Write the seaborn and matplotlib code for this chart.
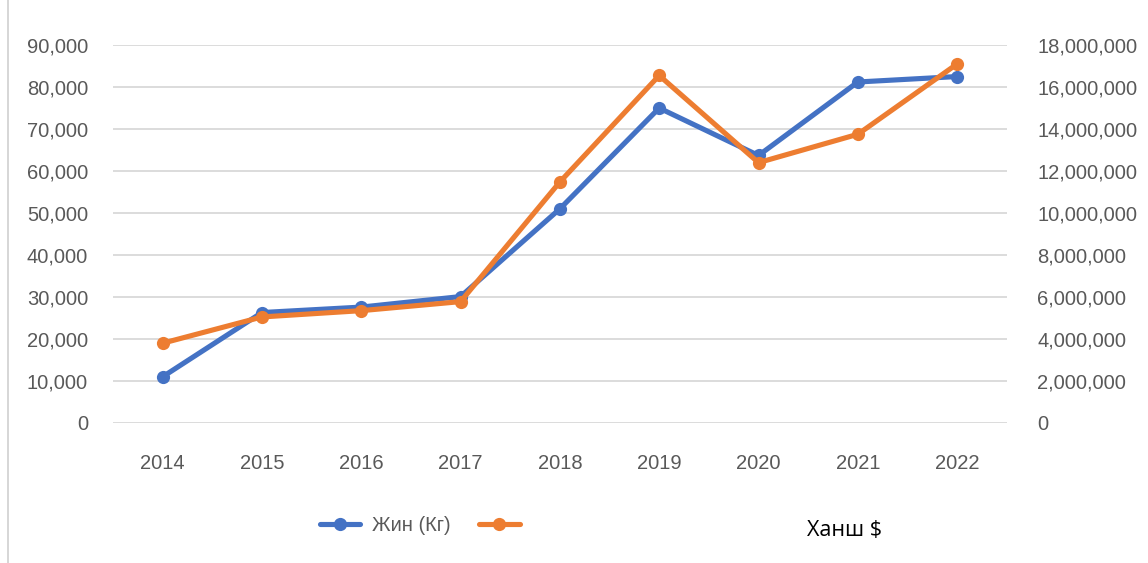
import matplotlib
matplotlib.use("Agg")
import matplotlib.pyplot as plt
import seaborn as sns
import pandas as pd
from matplotlib.lines import Line2D
from matplotlib.ticker import FuncFormatter, MultipleLocator

years = [2014, 2015, 2016, 2017, 2018, 2019, 2020, 2021, 2022]
weight_kg = [11000, 26300, 27600, 30100, 51000, 75000, 63700, 81200, 82500]
price_usd = [3800000, 5050000, 5350000, 5780000, 11480000, 16550000, 12400000, 13750000, 17100000]
legend_weight = "Жин (Кг)"
legend_price = "Ханш $"

sns.set_theme(style="white")
plt.rcParams['font.family'] = ['Liberation Sans', 'DejaVu Sans']

BLUE = "#4472C4"
ORANGE = "#ED7D31"
GRID = "#D9D9D9"
TXT = "#595959"
LW = 3.7
MS = 9.5

df = pd.DataFrame({"year": years, "weight": weight_kg, "price": price_usd})

fig = plt.figure(figsize=(11.48, 5.63), dpi=100)
ax = fig.add_axes([0.0984, 0.2487, 0.7786, 0.6713])
ax2 = ax.twinx()

sns.lineplot(data=df, x="year", y="weight", ax=ax, color=BLUE, linewidth=LW,
             marker="o", markersize=MS, markeredgewidth=0, zorder=3)
sns.lineplot(data=df, x="year", y="price", ax=ax2, color=ORANGE, linewidth=LW,
             marker="o", markersize=MS, markeredgewidth=0, zorder=3)

ax.set_ylim(0, 90000)
ax2.set_ylim(0, 18000000)
ax.set_xlim(2013.5, 2022.5)
ax.yaxis.set_major_locator(MultipleLocator(10000))
ax2.yaxis.set_major_locator(MultipleLocator(2000000))
fmt = FuncFormatter(lambda v, p: f"{int(round(v)):,}")
ax.yaxis.set_major_formatter(fmt)
ax2.yaxis.set_major_formatter(fmt)
ax.set_xticks(years)
ax.set_xticklabels([str(y) for y in years])

ax.grid(axis="y", color=GRID, linewidth=1.3)
ax.grid(axis="x", visible=False)
ax2.grid(False)
ax.set_axisbelow(True)
for a in (ax, ax2):
    for s in a.spines.values():
        s.set_visible(False)
    a.set_xlabel("")
    a.set_ylabel("")
    a.tick_params(length=0, labelsize=14.5, labelcolor=TXT)
ax.tick_params(axis="y", pad=18)
ax2.tick_params(axis="y", pad=22)
ax.tick_params(axis="x", pad=22)
if ax.get_legend():
    ax.get_legend().remove()
if ax2.get_legend():
    ax2.get_legend().remove()

handles = [
    Line2D([0], [0], color=BLUE, linewidth=LW, marker="o", markersize=MS, markeredgewidth=0),
    Line2D([0], [0], color=ORANGE, linewidth=LW, marker="o", markersize=MS, markeredgewidth=0),
]
leg = fig.legend(handles, [legend_weight, ""], loc="center left", bbox_to_anchor=(0.263, 0.066),
                 ncol=2, frameon=False, fontsize=14.5, handlelength=2.0,
                 handletextpad=0.6, columnspacing=1.4, borderpad=0.4)
for t in leg.get_texts():
    t.set_color(TXT)

fig.text(0.736, 0.057, legend_price, ha="center", va="center", fontsize=15.5,
         color="black", family=["Open Sans", "DejaVu Sans"])

fig.add_artist(Line2D([0.007, 0.007], [0.0, 1.0], color="#D0D0D0", linewidth=1.2,
                      transform=fig.transFigure))

fig.savefig("out.png", dpi=100)
